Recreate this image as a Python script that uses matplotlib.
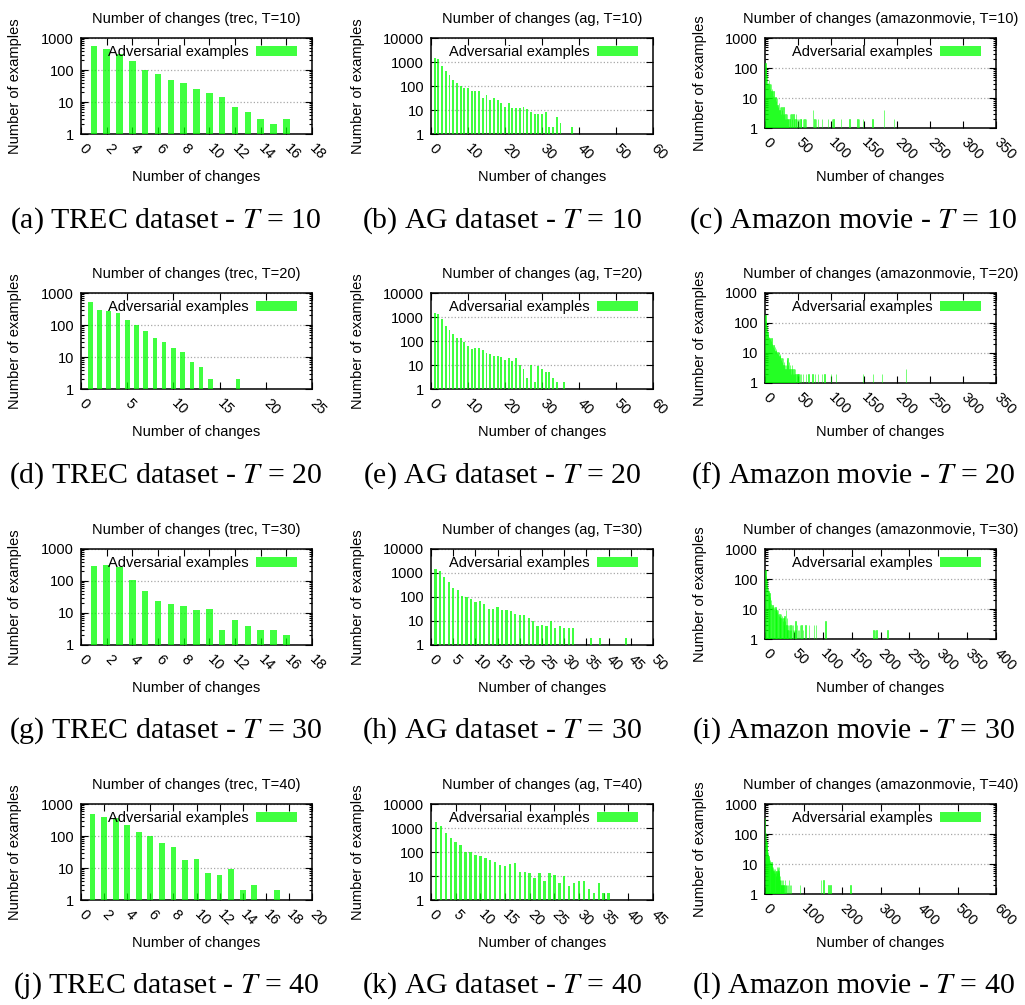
import matplotlib
matplotlib.use("Agg")
import matplotlib.pyplot as plt
from matplotlib.patches import Patch
from matplotlib.ticker import LogLocator, NullFormatter, NullLocator
import numpy as np

plt.rcParams['font.family'] = ['Liberation Sans', 'DejaVu Sans']
plt.rcParams['mathtext.fontset'] = 'stix'

# ---- data (number of changes -> number of examples) ----
trec_t10_x = list(range(1, 17))
trec_t10_y = [550, 460, 310, 193, 100, 75, 48, 39, 25, 19, 14, 7, 5, 3, 2, 3]

trec_t20_x = list(range(1, 18)) + [22]
trec_t20_y = [510, 300, 265, 233, 145, 100, 65, 40, 30, 19, 14, 7, 5, 2, 1, 1, 2, 1]

trec_t30_x = list(range(1, 17))
trec_t30_y = [305, 318, 265, 108, 49, 23, 19, 17, 12, 13, 3, 6, 4, 3, 3, 2]

trec_t40_x = list(range(1, 16)) + [17, 19]
trec_t40_y = [490, 390, 355, 215, 133, 100, 59, 44, 18, 19, 7, 6, 9, 2, 3, 2, 1]

ag_t10_x = list(range(1, 40)) + [42, 46, 50]
ag_t10_y = [1420, 1330, 700, 430, 280, 173, 138, 100, 85, 85,
            60, 60, 60, 33, 43, 26, 31, 27, 20, 13,
            20, 12, 12, 12, 13, 11, 8, 7, 7, 7,
            8, 2, 2, 5, 3, 1, 1, 2, 1, 1, 1, 1]

ag_t20_x = list(range(1, 37)) + [40, 46]
ag_t20_y = [1520, 1290, 800, 430, 300, 205, 128, 128, 88, 63,
            47, 50, 50, 41, 32, 28, 23, 23, 21, 16,
            19, 14, 19, 10, 7, 3, 10, 2, 9, 7,
            5, 5, 3, 2, 1, 2, 1, 1]

ag_t30_x = list(range(1, 39)) + [41, 44, 45, 49]
ag_t30_y = [1440, 1180, 660, 420, 235, 195, 108, 100, 81, 61,
            67, 50, 31, 31, 37, 28, 28, 25, 20, 17,
            17, 13, 10, 6, 7, 6, 10, 5, 6, 5,
            5, 5, 1, 1, 1, 2, 1, 2, 1, 2, 1, 1]

ag_t40_x = list(range(1, 40)) + [42]
ag_t40_y = [1700, 1260, 640, 400, 270, 190, 100, 100, 78, 69,
            58, 48, 40, 30, 25, 33, 36, 15, 15, 13,
            8, 13, 6, 13, 11, 5, 10, 4, 5, 6,
            6, 3, 2, 5, 2, 2, 1, 1, 1, 1]

amz_t10_x = list(range(1, 63)) + [66, 70, 73, 75, 77, 80, 84, 86, 89, 95, 100, 102, 104,
                                  110, 115, 120, 128, 135, 140, 142, 148, 155, 163, 170,
                                  180, 190, 195, 205, 215, 230, 240, 250, 258, 262, 300,
                                  315, 320]
amz_t10_y = [150, 110, 60, 30, 32, 40, 30, 20, 30, 17, 20, 12, 17, 11, 10, 11, 8, 10, 6, 5,
             7, 4, 5, 3, 5, 4, 3, 5, 3, 2, 3, 2, 3, 2, 2, 1, 2, 3, 1, 3,
             2, 1, 3, 2, 1, 2, 3, 2, 1, 2, 1, 2, 1, 2, 2, 1, 1, 2, 1, 2, 1, 2,
             1, 1, 4, 2, 2, 2, 1, 2, 1, 2, 1, 2, 2, 1, 2, 1, 2, 1, 2, 2,
             2, 1, 2, 1, 4, 1, 2, 1, 1, 1, 1, 1, 1, 1, 1, 1, 1]

amz_t20_x = list(range(1, 56)) + [58, 62, 66, 72, 76, 80, 86, 90, 95, 100, 108, 115, 125,
                                  135, 148, 155, 164, 177, 190, 200, 214, 230, 250, 270,
                                  300, 330]
amz_t20_y = [190, 120, 77, 50, 41, 35, 31, 30, 25, 31, 20, 16, 18, 14, 16, 12, 14, 10, 11, 9,
             11, 8, 9, 6, 7, 5, 7, 4, 5, 4, 3, 4, 6, 7, 4, 5, 3, 4, 2, 3,
             4, 2, 3, 2, 3, 2, 1, 2, 2, 1, 2, 1, 2, 1, 2,
             2, 2, 2, 2, 2, 2, 2, 2, 1, 2, 2, 1, 1, 1, 2, 1, 2, 2, 1, 1,
             3, 1, 1, 1, 1, 1]

amz_t30_x = list(range(1, 61)) + [63, 66, 70, 73, 76, 85, 88, 95, 105, 115, 125, 135, 145,
                                  160, 175, 188, 190, 193, 200, 212, 220, 240, 270, 310,
                                  320, 360]
amz_t30_y = [200, 130, 90, 60, 50, 40, 29, 35, 25, 20, 15, 12, 14, 12, 10, 12, 9, 12, 10, 9,
             8, 9, 7, 6, 7, 6, 5, 7, 6, 5, 4, 5, 3, 6, 4, 9, 3, 5, 2, 3,
             2, 3, 2, 3, 2, 1, 3, 2, 3, 2, 1, 2, 4, 2, 1, 3, 2, 1, 2, 3,
             3, 2, 3, 1, 3, 3, 3, 1, 4, 1, 1, 1, 1, 1, 1, 2, 2, 2, 1, 2,
             1, 1, 1, 1, 1, 1]

amz_t40_x = list(range(1, 71)) + [75, 85, 90, 100, 110, 120, 140, 145, 152, 160, 165, 170,
                                  180, 200, 222, 230, 260, 300]
amz_t40_y = [330, 105, 70, 55, 40, 30, 25, 20, 18, 14, 16, 12, 14, 12, 10, 9, 12, 8, 10, 7,
             8, 6, 7, 5, 6, 7, 5, 6, 4, 6, 5, 8, 7, 8, 6, 8, 5, 3, 4, 3,
             2, 3, 2, 3, 2, 3, 2, 2, 1, 2, 3, 2, 1, 2, 2, 1, 2, 1, 1, 2,
             1, 3, 1, 2, 1, 1, 2, 1, 1, 1,
             1, 1, 2, 1, 1, 1, 1, 3, 3, 1, 2, 2, 1, 1, 2, 1, 1, 1]

datasets = ['trec', 'ag', 'amazonmovie']
dataset_names = ['TREC dataset', 'AG dataset', 'Amazon movie']
t_values = [10, 20, 30, 40]
xs = [[trec_t10_x, ag_t10_x, amz_t10_x], [trec_t20_x, ag_t20_x, amz_t20_x],
      [trec_t30_x, ag_t30_x, amz_t30_x], [trec_t40_x, ag_t40_x, amz_t40_x]]
ys = [[trec_t10_y, ag_t10_y, amz_t10_y], [trec_t20_y, ag_t20_y, amz_t20_y],
      [trec_t30_y, ag_t30_y, amz_t30_y], [trec_t40_y, ag_t40_y, amz_t40_y]]
x_max = [[18, 60, 350], [25, 60, 350], [18, 50, 400], [20, 45, 600]]
x_step = [[2, 10, 50], [5, 10, 50], [2, 5, 50], [2, 5, 100]]
y_max = [1000, 10000, 1000]

GREEN = '#00ff00'
W, H = 1025, 1005
FS = 10.5

# layout in pixels
col_left = [81, 431, 765]
col_right = [312, 653, 996]
row_top = [38, 293, 549, 804]
col_height = [96, 96, 90]
ylabel_right = [22, 365, 707]
caption_x = [166, 502, 853]
caption_y = [221, 476, 731, 986]

fig = plt.figure(figsize=(W / 100, H / 100), dpi=100)

letter = 0
for r in range(4):
    for c in range(3):
        h = col_height[c]
        wpx = col_right[c] - col_left[c]
        left = col_left[c] / W
        bottom = 1 - (row_top[r] + h) / H
        ax = fig.add_axes([left, bottom, wpx / W, h / H])

        xv = np.array(xs[r][c])
        yv = np.array(ys[r][c], dtype=float)
        if c == 2:
            ax.bar(xv, yv - 1, bottom=1, width=0.5, color=GREEN, alpha=0.75,
                   edgecolor=GREEN, linewidth=0.5, zorder=3)
        else:
            ax.bar(xv, yv - 1, bottom=1, width=0.5, color=GREEN, alpha=0.75,
                   linewidth=0, zorder=3)

        ax.set_yscale('log')
        ax.set_ylim(1, y_max[c])
        yt = [10 ** k for k in range(int(np.log10(y_max[c])) + 1)]
        ax.set_yticks(yt, [str(v) for v in yt])
        ax.yaxis.set_minor_locator(LogLocator(base=10, subs=range(2, 10)))
        ax.yaxis.set_minor_formatter(NullFormatter())

        ax.set_xlim(0, x_max[r][c])
        xt = list(range(0, x_max[r][c] + 1, x_step[r][c]))
        ax.set_xticks(xt, [str(v) for v in xt], rotation=-45, ha='left', va='center',
                      rotation_mode='anchor')
        ax.xaxis.set_minor_locator(NullLocator())

        ax.set_axisbelow(True)
        ax.grid(axis='y', which='major', linestyle=':', color='#a8a8a8', linewidth=0.9)
        ax.tick_params(which='both', direction='in', top=True, right=True,
                       labelsize=FS, width=0.8, colors='black')
        ax.tick_params(which='major', length=5)
        ax.tick_params(which='minor', length=2.5)
        ax.tick_params(axis='x', pad=9)
        ax.tick_params(axis='y', pad=5)
        for sp in ax.spines.values():
            sp.set_linewidth(1.1)

        ax.set_title('Number of changes (%s, T=%d)' % (datasets[c], t_values[r]),
                     fontsize=FS, pad=11)
        ax.set_xlabel('Number of changes', fontsize=FS)
        ax.xaxis.set_label_coords(0.5, -(36 + (h == 90) * 6) / h)
        ax.set_ylabel('Number of examples', fontsize=FS)
        ax.yaxis.set_label_coords((ylabel_right[c] - col_left[c]) / wpx, 0.5)

        handle = Patch(facecolor=GREEN, alpha=0.75, linewidth=0)
        ax.legend([handle], ['Adversarial examples'], loc='upper right', frameon=False,
                  markerfirst=False, fontsize=FS, handlelength=2.8, handleheight=0.7,
                  handletextpad=0.5, borderaxespad=0.5, borderpad=0.2,
                  bbox_to_anchor=(1 - 5 / wpx, 1 + 3 / h))

        fig.text(caption_x[c] / W, 1 - caption_y[r] / H,
                 '(%s) %s - $T$ = %d' % ('abcdefghijkl'[letter], dataset_names[c], t_values[r]),
                 family='Liberation Serif', fontsize=21.5, ha='center', va='center')
        letter += 1

fig.savefig('out.png', dpi=100)
